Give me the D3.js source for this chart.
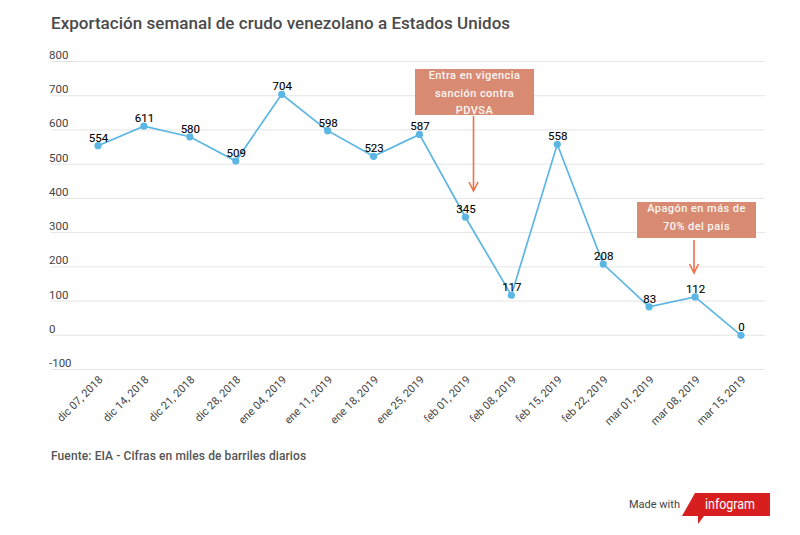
<!DOCTYPE html>
<html>
<head>
<meta charset="utf-8">
<script src="https://cdn.jsdelivr.net/npm/d3@7"></script>
<style>
  html, body { margin: 0; background: #fff; }
  text { font-family: Roboto, sans-serif; }
</style>
</head>
<body>
<svg id="chart" width="800" height="535"></svg>
<script>
const fechas = ["dic 07, 2018", "dic 14, 2018", "dic 21, 2018", "dic 28, 2018", "ene 04, 2019", "ene 11, 2019", "ene 18, 2019", "ene 25, 2019", "feb 01, 2019", "feb 08, 2019", "feb 15, 2019", "feb 22, 2019", "mar 01, 2019", "mar 08, 2019", "mar 15, 2019"];
const barriles = [554, 611, 580, 509, 704, 598, 523, 587, 345, 117, 558, 208, 83, 112, 0];
const yTicks = [-100, 0, 100, 200, 300, 400, 500, 600, 700, 800];

const notaSancion = ["Entra en vigencia", "sanción contra", "PDVSA"];
const notaApagon = ["Apagón en más de", "70% del país"];

const svg = d3.select("#chart");

const x = d3.scalePoint().domain(fechas).range([98, 741]);
const y = d3.scaleLinear().domain([-100, 800]).range([369.5, 61.5]);

// grid + y labels
const grid = svg.append("g");
grid.selectAll("line").data(yTicks).enter().append("line")
  .attr("x1", 51).attr("x2", 765)
  .attr("y1", d => y(d)).attr("y2", d => y(d))
  .attr("stroke", "#e4e4e4").attr("stroke-width", 1);
grid.selectAll("text").data(yTicks).enter().append("text")
  .attr("x", 49).attr("y", d => y(d) - 2.5)
  .attr("font-size", 11.5).attr("fill", "#444")
  .text(d => d);

// x labels
svg.append("g").selectAll("text").data(fechas).enter().append("text")
  .attr("transform", d => `translate(${x(d)},${375}) rotate(-45)`)
  .attr("text-anchor", "end")
  .attr("dy", "0.7em")
  .attr("font-size", 11).attr("fill", "#444")
  .text(d => d);

// line
const line = d3.line().x((d, i) => x(fechas[i])).y(d => y(d));
svg.append("path").datum(barriles)
  .attr("d", line)
  .attr("fill", "none").attr("stroke", "#5cb6e4").attr("stroke-width", 1.7);

svg.append("g").selectAll("circle").data(barriles).enter().append("circle")
  .attr("cx", (d, i) => x(fechas[i])).attr("cy", d => y(d))
  .attr("r", 3.6).attr("fill", "#5cb6e4");

svg.append("g").selectAll("text").data(barriles).enter().append("text")
  .attr("x", (d, i) => x(fechas[i]) + 0.5).attr("y", d => y(d) - 4)
  .attr("text-anchor", "middle")
  .attr("font-size", 11.5).attr("fill", "#000")
  .attr("stroke", "#000").attr("stroke-width", 0.1)
  .text(d => d);

// annotations
function nota(lineas, left, top, w, h, flechaX, flechaY1, flechaY2) {
  const g = svg.append("g");
  g.append("rect").attr("x", left).attr("y", top).attr("width", w).attr("height", h).attr("fill", "#d88b72");
  g.selectAll("text").data(lineas).enter().append("text")
    .attr("x", left + w / 2).attr("y", (d, i) => top + 10 + i * 17.5)
    .attr("text-anchor", "middle")
    .attr("font-size", 11).attr("font-weight", 500).attr("letter-spacing", 0.45).attr("fill", "#fbf6f2")
    .text(d => d);
  g.append("path")
    .attr("d", `M${flechaX},${flechaY1}V${flechaY2}M${flechaX - 4.5},${flechaY2 - 9}L${flechaX},${flechaY2}L${flechaX + 4.5},${flechaY2 - 9}`)
    .attr("fill", "none").attr("stroke", "#f0704a").attr("stroke-width", 1.6);
}
nota(notaSancion, 415, 69, 119, 46, 473.5, 116, 191);
nota(notaApagon, 637, 202, 119, 36, 694, 240, 273);

// titles
svg.append("text").attr("x", 51).attr("y", 29)
  .attr("font-size", 17).attr("font-weight", 500).attr("letter-spacing", 0.03).attr("fill", "#4a4a4a")
  .text("Exportación semanal de crudo venezolano a Estados Unidos");
svg.append("text").attr("x", 51).attr("y", 460)
  .attr("font-size", 12).attr("font-weight", 500).attr("letter-spacing", 0.1).attr("fill", "#555")
  .text("Fuente: EIA - Cifras en miles de barriles diarios");

// infogram badge
svg.append("text").attr("x", 629).attr("y", 508)
  .attr("font-size", 11).attr("fill", "#444").text("Made with");
svg.append("path")
  .attr("d", "M695,493H770V516H704L698,524V516H682Z")
  .attr("fill", "#d71f1f");
svg.append("text").attr("x", 705).attr("y", 509)
  .attr("font-size", 14).attr("fill", "#fff").attr("textLength", 50)
  .attr("lengthAdjust", "spacingAndGlyphs").text("infogram");
</script>
</body>
</html>
